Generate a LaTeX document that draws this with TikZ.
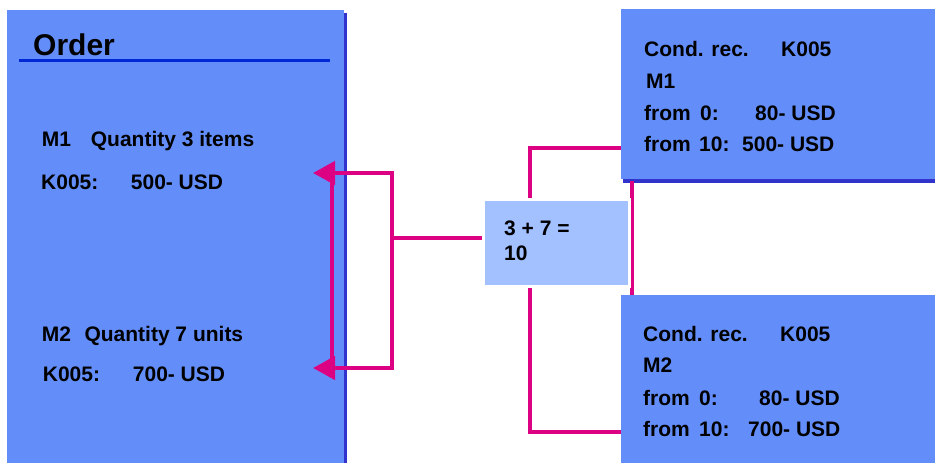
\documentclass[tikz,border=0pt]{standalone}
\usepackage{fontspec}
\setmainfont{Liberation Sans}
\usetikzlibrary{arrows.meta}
\definecolor{boxblue}{RGB}{99,142,250}
\definecolor{midblue}{RGB}{163,192,255}
\definecolor{shadowblue}{RGB}{50,50,205}
\definecolor{lineblue}{RGB}{0,40,215}
\definecolor{mag}{RGB}{220,0,130}
\begin{document}
\begin{tikzpicture}[x=1pt,y=-1pt,
  panel/.style={fill=boxblue, draw=none, anchor=north west, inner sep=0pt},
  txt/.style={anchor=base west, inner sep=0pt, font=\fontsize{21}{25}\selectfont\bfseries},
  conn/.style={draw=mag, line width=4.5pt},
  bothtips/.style={{Triangle[length=22pt,width=23pt]}-{Triangle[length=22pt,width=23pt]}}]
\useasboundingbox[fill=white] (0,0) rectangle (935,463);

% panels with shadows
\fill[shadowblue] (344,13) rectangle (347,463);
\node[panel, minimum width=337pt, minimum height=453pt] (order) at (7,10) {};
\fill[shadowblue] (623,179) rectangle (935,182.5);
\node[panel, minimum width=314pt, minimum height=170pt] (cond1) at (621,9) {};
\node[panel, minimum width=314pt, minimum height=168pt] (cond2) at (621,295) {};

% title
\node[anchor=base west, inner sep=0pt, font=\fontsize{30}{36}\selectfont\bfseries] (ordertitle) at (33,55) {Order};
\draw[lineblue, line width=3pt] (19,60) -- (330,60);

% coordinates
\coordinate (tipA) at (313,173);
\coordinate (tipB) at (313,368);
\coordinate (cornA) at (392,173);
\coordinate (cornB) at (392,368);
\coordinate (innA) at (332,173);
\coordinate (innB) at (332,368);
\coordinate (joint) at (390,238);
\coordinate (rA) at (621,148);
\coordinate (rB) at (621,432);
\coordinate (rcA) at (530,148);
\coordinate (rcB) at (530,432);
\coordinate (vA) at (632,181);
\coordinate (vB) at (632,295);

% connectors
\draw[conn] (vA) -- (vB);
\draw[conn] (rA) -- (rcA) -- (rcB) -- (rB);
\draw[conn, bothtips] (tipA) -- (cornA) -- (cornB) -- (tipB);
\draw[conn] (innA) -- (innB);

% middle box
\node[fill=midblue, draw=white, line width=3pt, anchor=north west, minimum width=146pt, minimum height=87pt, inner sep=0pt] (mid) at (482,198) {};
\draw[conn] (joint) -- (mid.west |- joint);

\node[txt] (m1) at (504,235) {3 + 7 =};
\node[txt] (m2) at (504,260.7) {10};

% order texts
\node[txt] (o1) at (41.7,146.7) {M1};
\node[txt] (o2) at (90.7,146.7) {Quantity 3 items};
\node[txt] (o3) at (41,189) {K005:};
\node[txt] (o4) at (130.7,189) {500- USD};
\node[txt] (o5) at (41.7,341) {M2};
\node[txt] (o6) at (84.3,341) {Quantity 7 units};
\node[txt] (o7) at (42.7,381.7) {K005:};
\node[txt] (o8) at (132.7,381.7) {700- USD};

% cond 1 texts
\node[txt] (a1) at (644,56) {Cond. rec.};
\node[txt] (a2) at (781,56) {K005};
\node[txt] (a3) at (646,88) {M1};
\node[txt] (a4) at (644,120.7) {from};
\node[txt] (a5) at (700,120.7) {0:};
\node[txt] (a6) at (755,120.7) {80- USD};
\node[txt] (a7) at (644,151.7) {from};
\node[txt] (a8) at (699,151.7) {10:};
\node[txt] (a9) at (742,151.7) {500- USD};

% cond 2 texts
\node[txt] (b1) at (643,341) {Cond. rec.};
\node[txt] (b2) at (780,341) {K005};
\node[txt] (b3) at (643,372.3) {M2};
\node[txt] (b4) at (643,405.7) {from};
\node[txt] (b5) at (699,405.7) {0:};
\node[txt] (b6) at (759,405.7) {80- USD};
\node[txt] (b7) at (643,436.7) {from};
\node[txt] (b8) at (699,436.7) {10:};
\node[txt] (b9) at (748,436.7) {700- USD};
\end{tikzpicture}
\end{document}
